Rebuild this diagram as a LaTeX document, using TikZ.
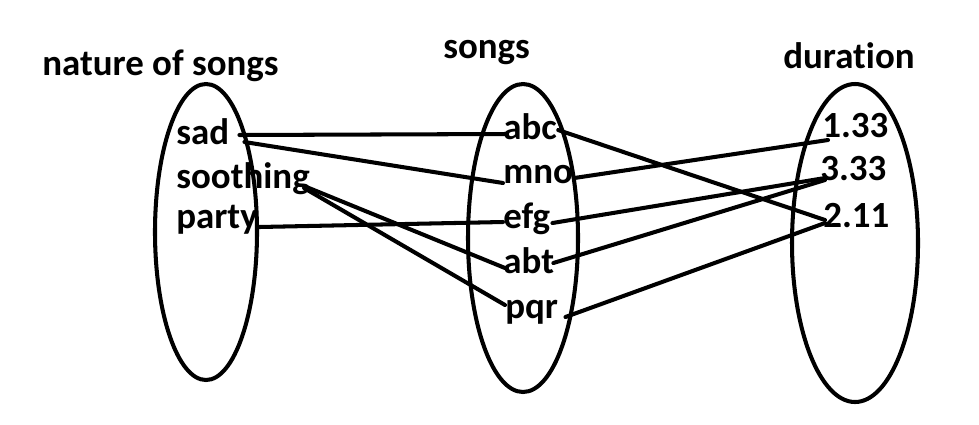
\documentclass[tikz,border=0pt]{standalone}
\usepackage{fontspec}
\setmainfont{Carlito}[Ligatures={NoCommon}]
\begin{document}
\begin{tikzpicture}[
        x=0.02cm, y=-0.02cm,
        every node/.style={anchor=base west, inner sep=0pt, font=\fontsize{21}{25}\selectfont\bfseries},
        set/.style={draw, line width=2.3pt},
        link/.style={draw, line width=2.3pt, line cap=round},
    ]
    \useasboundingbox (0,0) rectangle (979,424);
    \path[set] (206,232) ellipse [x radius=51, y radius=148];
    \path[set] (523,238) ellipse [x radius=55, y radius=154];
    \path[set] (855,243) ellipse [x radius=63, y radius=159];

    \node[](nature) at (42,75){nature of songs};
    \node[](songs) at (443,58){songs};
    \node[](duration) at (783,68){duration};

    \node[](sad) at (176,144){sad};
    \node[](soothing) at (176,188){soothing};
    \node[](party) at (176,228){party};

    \node[](abc) at (503,139){abc};
    \node[](mno) at (503,183){mno};
    \node[](efg) at (503,228){efg};
    \node[](abt) at (503,273){abt};
    \node[](pqr) at (505,318){pqr};

    \node[](d133) at (822,137){1.33};
    \node[](d333) at (820,180){3.33};
    \node[](d211) at (823,227){2.11};

    \path[link] ([shift={(10,-9)}]sad.base east) -- ([shift={(4,-5)}]abc.base west);
    \path[link] ([shift={(15,-2)}]sad.base east) -- ([shift={(0,0)}]mno.base west);
    \path[link] ([shift={(-6,-2)}]soothing.base east) -- ([shift={(2,-5)}]abt.base west);
    \path[link] ([shift={(-6,0)}]soothing.base east) -- ([shift={(0,-13)}]pqr.base west);
    \path[link] ([shift={(1,-1)}]party.base east) -- ([shift={(0,-6)}]efg.base west);

    \path[link] ([shift={(1,-9)}]abc.base east) -- ([shift={(2,-7)}]d211.base west);
    \path[link] ([shift={(1,-5)}]mno.base east) -- ([shift={(6,3)}]d133.base west);
    \path[link] ([shift={(2,-5)}]efg.base east) -- ([shift={(5,-2)}]d333.base west);
    \path[link] ([shift={(-1,-10)}]abt.base east) -- ([shift={(5,0)}]d333.base west);
    \path[link] ([shift={(7,-1)}]pqr.base east) -- ([shift={(2,-4)}]d211.base west);
\end{tikzpicture}
\end{document}
